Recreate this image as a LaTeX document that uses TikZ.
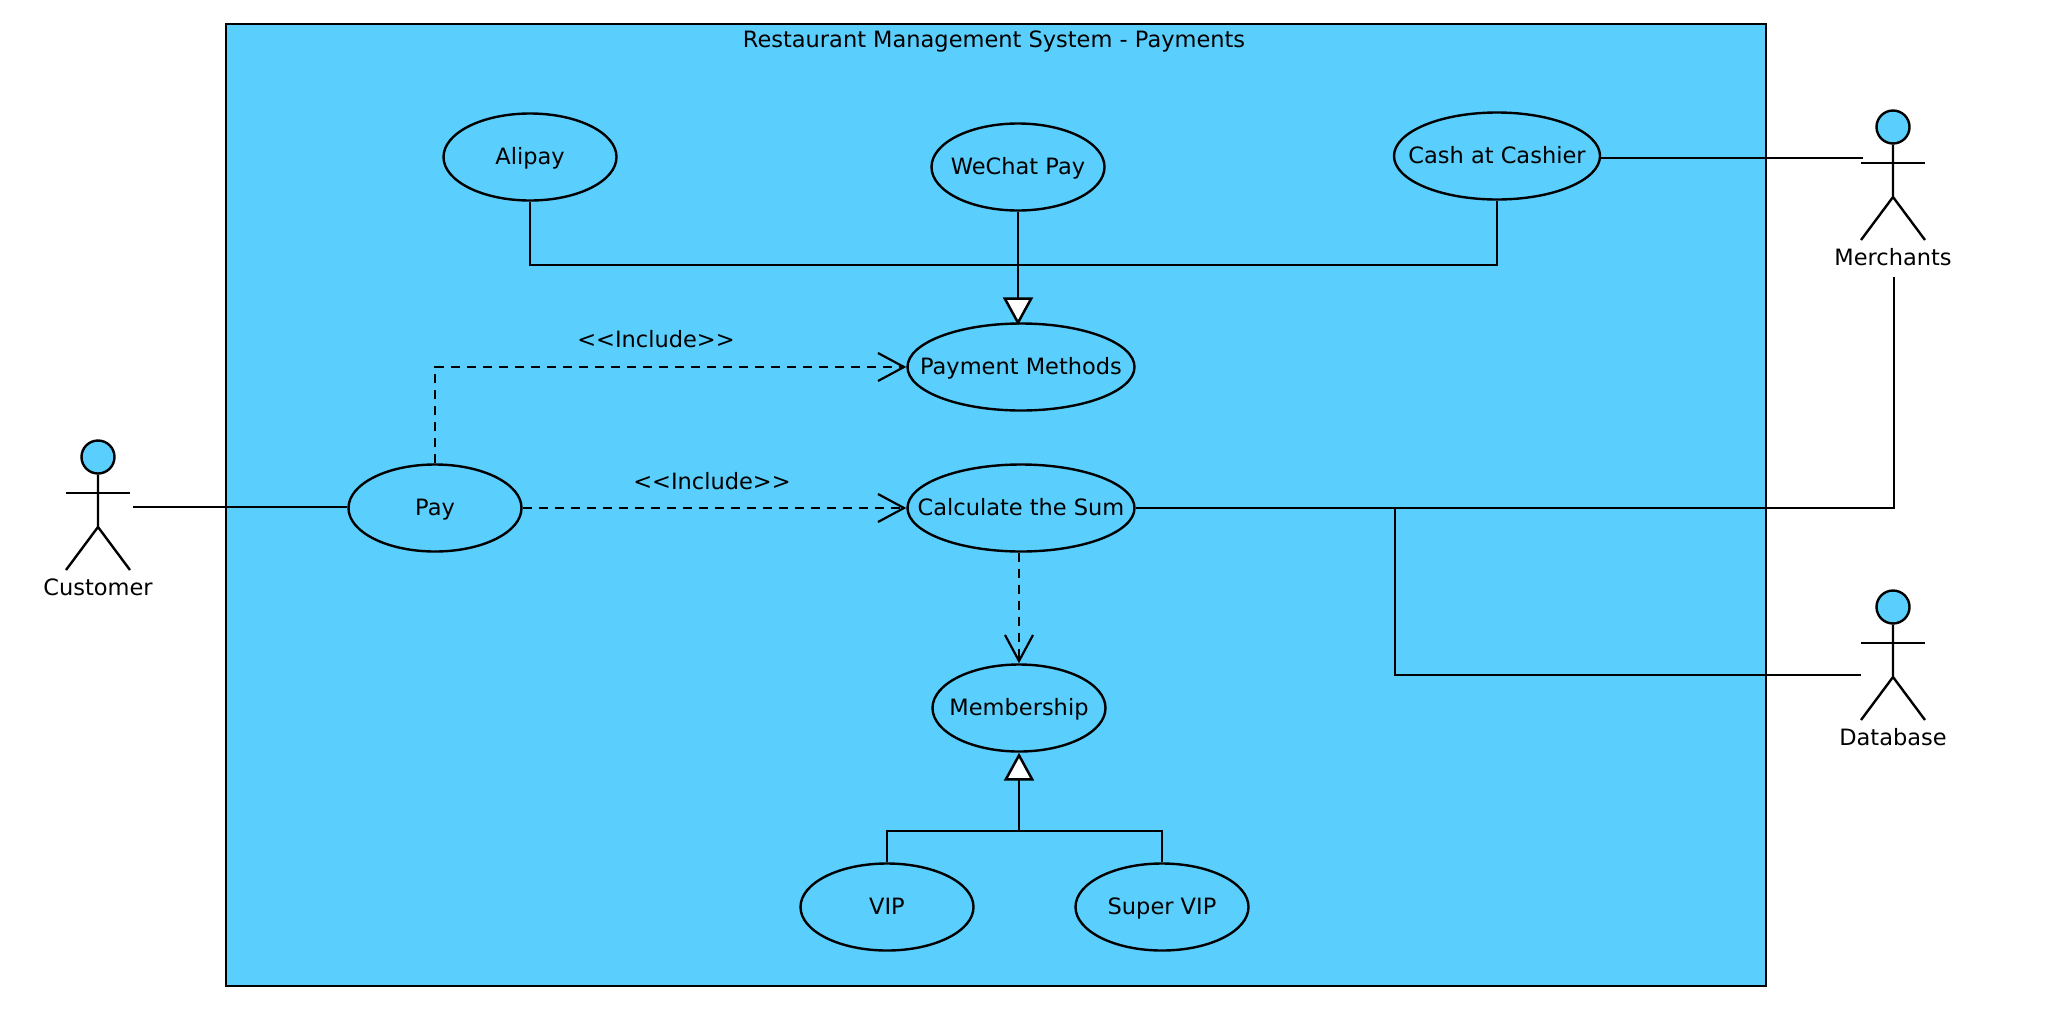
\documentclass[tikz,border=0pt]{standalone}
\usepackage{fontspec}
\setmainfont{DejaVu Sans}
\usetikzlibrary{shapes.geometric,arrows.meta}

\definecolor{umlblue}{HTML}{5ACEFC}

\tikzset{
    usecase/.style={ellipse, draw, fill=umlblue, line width=2.4pt, inner ysep=0pt, inner xsep=-60pt, text height=20pt, text depth=5pt, minimum width=173pt, minimum height=87pt},
    wideuse/.style={usecase, minimum width=227pt},
    cashuse/.style={usecase, minimum width=206pt},
    caption/.style={inner sep=0pt},
    assoc/.style={line width=2.4pt},
    include/.style={line width=2.4pt, dash pattern=on 9pt off 7pt, -{Straight Barb[length=26pt,width=28pt,line width=2.2pt]}},
    general/.style={line width=2.8pt, -{Triangle[fill=white,length=28pt,width=30pt,line width=2.5pt]}},
    pics/actor/.style args={#1}{code={
        \node[circle, draw, fill=umlblue, line width=2.4pt, inner sep=0pt, minimum size=33pt] (-head) at (0,0) {};
        \draw[assoc] (-head.south) -- (0,70) -- (-32,113);
        \draw[assoc] (0,70) -- (32,113);
        \draw[assoc] (-32,36) -- (32,36);
        \node[caption] (-label) at (0,130) {#1};
    }}
}

\begin{document}
\begin{tikzpicture}[x=1pt, y=-1pt, font=\fontsize{22.5}{26}\selectfont]
    \useasboundingbox (0,0) rectangle (2048,1020);

    \node[draw, fill=umlblue, line width=2.4pt, inner sep=0pt, minimum width=1540pt, minimum height=962pt] (system) at (996,505) {};
    \node[caption] (title) at (994,41) {Restaurant Management System - Payments};

    % use cases
    \node[usecase] (alipay) at (530,157) {Alipay};
    \node[usecase] (wechat) at (1018,167) {WeChat Pay};
    \node[cashuse] (cash) at (1497,156) {Cash at Cashier};
    \node[wideuse] (methods) at (1021,367) {Payment Methods};
    \node[wideuse] (sum) at (1021,508) {Calculate the Sum};
    \node[usecase] (pay) at (435,508) {Pay};
    \node[usecase] (membership) at (1019,708) {Membership};
    \node[usecase] (vip) at (887,907) {VIP};
    \node[usecase] (supervip) at (1162,907) {Super VIP};

    % actors
    \pic (customer) at (98,457) {actor={Customer}};
    \pic (merchants) at (1893,127) {actor={Merchants}};
    \pic (database) at (1893,607) {actor={Database}};

    \coordinate (customerarm) at (133,507);
    \coordinate (merchantsarm) at (1863,158);
    \coordinate (merchantsfoot) at (1894,277);
    \coordinate (databasearm) at (1861,675);
    \coordinate (sumjoint) at (1395,508);
    \coordinate (methodjoint) at (1018,265);
    \coordinate (memberjoint) at (1019,831);

    \draw[assoc] (customerarm) -- (customerarm -| pay.west);
    \draw[assoc] (cash.east |- merchantsarm) -- (merchantsarm);
    \draw[assoc] (sum.east) -| (merchantsfoot);
    \draw[assoc] (sumjoint) |- (databasearm);

    \draw[assoc] (alipay.south) |- (methodjoint) -| (cash.south);
    \draw[general, shorten >=-3pt] (wechat.south) -- (wechat.south |- methods.north);
    \draw[assoc] (vip.north) |- (memberjoint) -| (supervip.north);
    \draw[general] (memberjoint) -- (membership.south);

    \draw[include] (pay.north) |- (methods.west);
    \draw[include] (pay.east) -- (sum.west);
    \draw[include] (membership.north |- sum.south) -- (membership.north);

    \node[caption] (includeup) at (656,339) {<{}<Include>{}>};
    \node[caption] (includedown) at (712,481) {<{}<Include>{}>};
\end{tikzpicture}
\end{document}
